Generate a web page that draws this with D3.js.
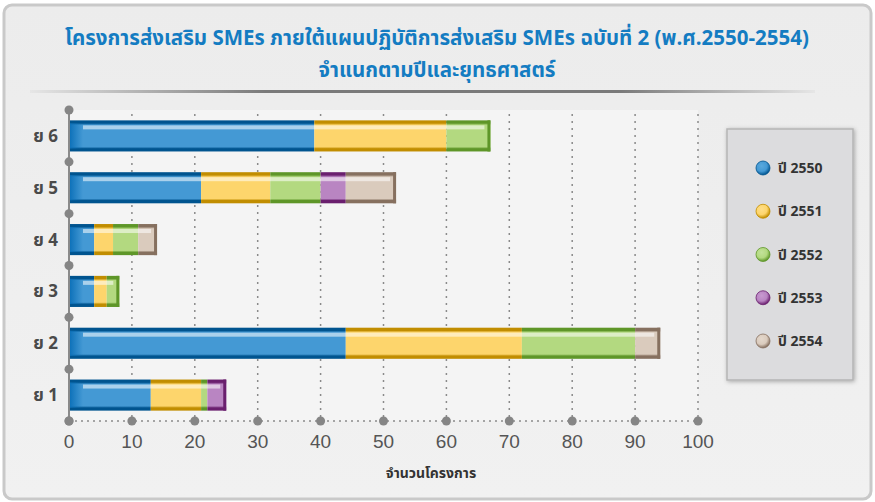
<!DOCTYPE html>
<html><head><meta charset="utf-8">
<script src="https://cdn.jsdelivr.net/npm/d3@7/dist/d3.min.js"></script>
<style>
html,body{margin:0;padding:0;background:#fff;}
svg{display:block;}
</style></head>
<body>
<svg id="chart" width="875" height="502"></svg>
<script>
const categories = ["ย 6","ย 5","ย 4","ย 3","ย 2","ย 1"];
const seriesNames = ["ปี 2550","ปี 2551","ปี 2552","ปี 2553","ปี 2554"];
const v2550 = [39, 21, 4, 4, 44, 13];
const v2551 = [21, 11, 3, 2, 28, 8];
const v2552 = [7, 8, 4, 2, 18, 1];
const v2553 = [0, 4, 0, 0, 0, 3];
const v2554 = [0, 8, 3, 0, 4, 0];
const xTicks = [0,10,20,30,40,50,60,70,80,90,100];
const titleLines = ["โครงการส่งเสริม SMEs ภายใต้แผนปฏิบัติการส่งเสริม SMEs ฉบับที่ 2 (พ.ศ.2550-2554)","จำแนกตามปีและยุทธศาสตร์"];
const xTitle = "จำนวนโครงการ";

const colors = [
  {main:"#4499d4", light:"#5aa9dd", dark:"#00548f"},
  {main:"#fdd56c", light:"#fede8a", dark:"#c18d00"},
  {main:"#b3d980", light:"#c3e29a", dark:"#5e9628"},
  {main:"#b985c2", light:"#c89ad0", dark:"#6a1f6e"},
  {main:"#dacbbd", light:"#e4d8cc", dark:"#86705f"}
];

const table = categories.map((c,i)=>({cat:c, "ปี 2550":v2550[i],"ปี 2551":v2551[i],"ปี 2552":v2552[i],"ปี 2553":v2553[i],"ปี 2554":v2554[i]}));
const stacked = d3.stack().keys(seriesNames)(table);

const svg = d3.select("#chart");
const font = "'Noto Sans Thai','Noto Sans','Liberation Sans',sans-serif";
const defs = svg.append("defs");

// panel
const pg = defs.append("linearGradient").attr("id","panelG").attr("x1",0).attr("y1",0).attr("x2",0).attr("y2",1);
pg.append("stop").attr("offset","0%").attr("stop-color","#ececec");
pg.append("stop").attr("offset","100%").attr("stop-color","#f1f1f1");
svg.append("rect").attr("x",4).attr("y",5).attr("width",867).attr("height",494).attr("rx",8)
  .attr("fill","url(#panelG)").attr("stroke","#c9c9c9").attr("stroke-width",3);

// title
svg.append("g").selectAll("text").data(titleLines).join("text")
  .attr("x",437).attr("y",(d,i)=>45+i*32).attr("text-anchor","middle")
  .attr("font-family",font).attr("font-size",20.5).attr("font-weight","bold").attr("fill","#147cc2")
  .text(d=>d);

// separator
const sg = defs.append("linearGradient").attr("id","sepG");
sg.append("stop").attr("offset","0%").attr("stop-color","#e6e6e6");
sg.append("stop").attr("offset","30%").attr("stop-color","#7a7a7a");
sg.append("stop").attr("offset","75%").attr("stop-color","#7a7a7a");
sg.append("stop").attr("offset","100%").attr("stop-color","#e6e6e6");
svg.append("rect").attr("x",30).attr("y",90).attr("width",785).attr("height",3).attr("fill","url(#sepG)");

const m = {l:69, r:698, t:110, b:421};
const x = d3.scaleLinear().domain([0,100]).range([m.l,m.r]);
const y = d3.scaleBand().domain(categories).range([m.t,m.b]).paddingInner(0.4).paddingOuter(0.2);

// plot bg
svg.append("rect").attr("x",m.l).attr("y",m.t).attr("width",m.r-m.l).attr("height",m.b-m.t).attr("fill","#f4f4f4");

// grid
svg.append("g").selectAll("line").data(xTicks.slice(1)).join("line")
  .attr("x1",d=>x(d)).attr("x2",d=>x(d)).attr("y1",m.t+4).attr("y2",m.b)
  .attr("stroke","#8a8a8a").attr("stroke-width",1.5).attr("stroke-dasharray","2,5");

// bottom axis dotted line
svg.append("line").attr("x1",m.l).attr("x2",m.r).attr("y1",m.b).attr("y2",m.b)
  .attr("stroke","#8a8a8a").attr("stroke-width",1.5).attr("stroke-dasharray","2,4");

// gradients per series
colors.forEach((c,i)=>{
  const g = defs.append("linearGradient").attr("id","bg"+i).attr("x1",0).attr("y1",0).attr("x2",0).attr("y2",1);
  [[0,c.dark],[0.09,c.dark],[0.15,c.main],[0.85,c.main],[0.91,c.dark],[1,c.dark]].forEach(s=>
    g.append("stop").attr("offset",s[0]).attr("stop-color",s[1]));
});
const lg = defs.append("linearGradient").attr("id","blueLeft").attr("x1",0).attr("y1",0).attr("x2",1).attr("y2",0);
lg.append("stop").attr("offset","0%").attr("stop-color","#0a6fb8");
lg.append("stop").attr("offset","100%").attr("stop-color","#0a6fb8").attr("stop-opacity",0);

// bars
const bars = svg.append("g");
stacked.forEach((s,si)=>{
  bars.append("g").selectAll("rect").data(s.filter(d=>d[1]>d[0])).join("rect")
    .attr("x",d=>x(d[0])).attr("width",d=>x(d[1])-x(d[0]))
    .attr("y",d=>y(d.data.cat)).attr("height",y.bandwidth())
    .attr("fill","url(#bg"+si+")");
});
// blue left shading
bars.append("g").selectAll("rect").data(stacked[0]).join("rect")
  .attr("x",d=>x(d[0])).attr("width",d=>Math.min(14,x(d[1])-x(d[0])))
  .attr("y",d=>y(d.data.cat)+3).attr("height",y.bandwidth()-6)
  .attr("fill","url(#blueLeft)");
// end caps on last segment
const last = stacked[stacked.length-1];
bars.append("g").selectAll("rect").data(last).join("rect")
  .attr("x",d=>x(d[1])-3).attr("width",3)
  .attr("y",d=>y(d.data.cat)).attr("height",y.bandwidth())
  .attr("fill",d=>{
    let idx=0; stacked.forEach((s,si)=>{const e=s.find(q=>q.data.cat===d.data.cat); if(e[1]>e[0]) idx=si;});
    return colors[idx].dark;});
// highlight
bars.append("g").selectAll("rect").data(last).join("rect")
  .attr("x",d=>x(0)+14).attr("width",d=>Math.max(0,x(d[1])-x(0)-20))
  .attr("y",d=>y(d.data.cat)+5).attr("height",4)
  .attr("fill","#ffffff").attr("opacity",0.55);

// left axis
svg.append("line").attr("x1",m.l).attr("x2",m.l).attr("y1",m.t).attr("y2",m.b).attr("stroke","#8a8a8a").attr("stroke-width",2);
const bounds = categories.map(c=>y(c)-y.step()*y.paddingInner()/2).concat([m.b]);
svg.append("g").selectAll("circle").data(bounds).join("circle")
  .attr("cx",m.l).attr("cy",d=>d).attr("r",4.5).attr("fill","#858585");
svg.append("g").selectAll("circle").data(xTicks).join("circle")
  .attr("cx",d=>x(d)).attr("cy",m.b).attr("r",4.5).attr("fill","#858585");

// y labels
svg.append("g").selectAll("text").data(categories).join("text")
  .attr("x",58).attr("y",d=>y(d)+y.bandwidth()/2+6).attr("text-anchor","end")
  .attr("font-family",font).attr("font-size",17).attr("font-weight","bold").attr("fill","#4a4a4a").text(d=>d);

// x labels
svg.append("g").selectAll("text").data(xTicks).join("text")
  .attr("x",d=>x(d)).attr("y",448).attr("text-anchor","middle")
  .attr("font-family","'Liberation Sans Narrow','Liberation Sans',sans-serif").attr("font-size",19).attr("fill","#555").text(d=>d);

svg.append("text").attr("x",431).attr("y",478).attr("text-anchor","middle")
  .attr("font-family",font).attr("font-size",14).attr("font-weight","bold").attr("fill","#333").text(xTitle);

// legend
const f = defs.append("filter").attr("id","sh").attr("x","-10%").attr("y","-10%").attr("width","130%").attr("height","130%");
f.append("feDropShadow").attr("dx",1).attr("dy",1).attr("stdDeviation",2).attr("flood-color","#000").attr("flood-opacity",0.3);
svg.append("rect").attr("x",727).attr("y",129).attr("width",126).attr("height",251)
  .attr("fill","#dcdcde").attr("stroke","#b5b5b5").attr("stroke-width",1.5).attr("filter","url(#sh)");
const ly = d3.scalePoint().domain(seriesNames).range([168,341]);
colors.forEach((c,i)=>{
  const rg = defs.append("radialGradient").attr("id","lg"+i).attr("cx","40%").attr("cy","35%").attr("r","65%");
  rg.append("stop").attr("offset","0%").attr("stop-color",c.light);
  rg.append("stop").attr("offset","60%").attr("stop-color",c.main);
  rg.append("stop").attr("offset","100%").attr("stop-color",c.dark);
});
const li = svg.append("g").selectAll("g").data(seriesNames).join("g").attr("transform",d=>`translate(0,${ly(d)})`);
li.append("circle").attr("cx",763).attr("cy",0).attr("r",7).attr("fill",(d,i)=>`url(#lg${i})`).attr("stroke",(d,i)=>colors[i].dark).attr("stroke-width",0.8);
li.append("text").attr("x",778).attr("y",5).attr("font-family",font).attr("font-size",14).attr("font-weight","bold").attr("fill","#333").text(d=>d);
</script>
</body></html>
